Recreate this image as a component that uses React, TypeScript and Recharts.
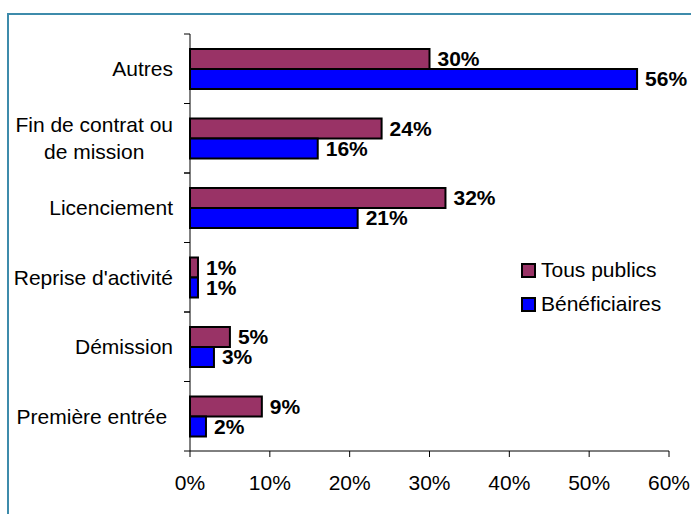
import { Bar, BarChart, LabelList, XAxis, YAxis } from "recharts";

const categories = [
  "Autres",
  "Fin de contrat ou de mission",
  "Licenciement",
  "Reprise d'activité",
  "Démission",
  "Première entrée\u00a0",
];
const tousPublics = [30, 24, 32, 1, 5, 9];
const beneficiaires = [56, 16, 21, 1, 3, 2];
const xTicks = [0, 10, 20, 30, 40, 50, 60];

const series = [
  { key: "tous", name: "Tous publics", color: "#993366" },
  { key: "benef", name: "Bénéficiaires", color: "#0000FF" },
];

const W = 691;
const H = 514;
const MARGIN = { top: 34, right: 22, bottom: 0, left: 0 };
const Y_WIDTH = 190;
const X_HEIGHT = 63;
const FONT = "'Liberation Sans', Arial, sans-serif";
const FS = 21;

const AXIS_X = MARGIN.left + Y_WIDTH;
const BAND = (H - MARGIN.top - MARGIN.bottom - X_HEIGHT) / categories.length;

const data = categories.map((name, i) => ({
  name,
  tous: tousPublics[i],
  benef: beneficiaires[i],
}));

let ctx: CanvasRenderingContext2D | null = null;
const measure = (s: string) => {
  if (!ctx) ctx = document.createElement("canvas").getContext("2d");
  if (!ctx) return s.length * FS * 0.5;
  ctx.font = `${FS}px ${FONT}`;
  return ctx.measureText(s).width;
};

// greedy word wrap, used for the long category name
const wrap = (s: string, max: number) => {
  const words = s.split(" ");
  const lines: string[] = [];
  let cur = "";
  words.forEach((w) => {
    const next = cur ? cur + " " + w : w;
    if (cur && measure(next) > max) {
      lines.push(cur);
      cur = w;
    } else cur = next;
  });
  if (cur) lines.push(cur);
  return lines;
};

const CategoryTick = (props: any) => {
  const { y, payload } = props;
  const right = AXIS_X - 17;
  const lines = wrap(String(payload.value), 165);
  const blockW = Math.max(...lines.map(measure));
  const lh = 27;
  const y0 = y - ((lines.length - 1) * lh) / 2;
  return (
    <g>
      <line x1={AXIS_X - 6} x2={AXIS_X} y1={y - BAND / 2} y2={y - BAND / 2} stroke="#000" />
      <line x1={AXIS_X - 6} x2={AXIS_X} y1={y + BAND / 2} y2={y + BAND / 2} stroke="#000" />
      {lines.map((l, i) => (
        <text
          key={i}
          x={lines.length > 1 ? right - blockW / 2 : right}
          y={y0 + i * lh}
          dy="0.35em"
          textAnchor={lines.length > 1 ? "middle" : "end"}
          fontSize={FS}
          fontFamily={FONT}
          fill="#000"
        >
          {l}
        </text>
      ))}
    </g>
  );
};

export default function App() {
  return (
    <div
      style={{
        position: "absolute",
        left: 0,
        top: 0,
        width: W,
        height: H,
        overflow: "hidden",
        background: "#fff",
      }}
    >
      <div
        style={{
          position: "absolute",
          left: 7,
          top: 13,
          width: W,
          height: H,
          borderTop: "2px solid #3d8bab",
          borderLeft: "2px solid #3d8bab",
        }}
      />
      <div style={{ position: "absolute", left: 0, top: 0 }}>
        <BarChart
          width={W}
          height={H}
          data={data}
          layout="vertical"
          margin={MARGIN}
          barCategoryGap={15}
          barGap={0}
        >
          <XAxis
            type="number"
            domain={[0, 60]}
            ticks={xTicks}
            tickFormatter={(v) => `${v}%`}
            height={X_HEIGHT}
            tickSize={6}
            tickMargin={18}
            stroke="#000"
            tick={{ fill: "#000", fontSize: FS, fontFamily: FONT }}
            interval={0}
          />
          <YAxis
            type="category"
            dataKey="name"
            width={Y_WIDTH}
            stroke="#000"
            tickLine={false}
            tick={<CategoryTick />}
            interval={0}
          />
          {series.map((s) => (
            <Bar
              key={s.key}
              dataKey={s.key}
              name={s.name}
              fill={s.color}
              stroke="#000"
              strokeWidth={2}
              isAnimationActive={false}
            >
              <LabelList
                dataKey={s.key}
                position="right"
                offset={8}
                formatter={(v: any) => `${v}%`}
                fill="#000"
                fontSize={FS}
                fontWeight="bold"
                fontFamily={FONT}
              />
            </Bar>
          ))}
        </BarChart>
      </div>
      <div
        style={{
          position: "absolute",
          left: 521,
          top: 253,
          fontFamily: FONT,
          fontSize: FS,
          color: "#000",
        }}
      >
        {series.map((s) => (
          <div
            key={s.key}
            style={{ display: "flex", alignItems: "center", height: 34 }}
          >
            <span
              style={{
                display: "inline-block",
                width: 11,
                height: 11,
                background: s.color,
                border: "2px solid #000",
                marginRight: 5,
              }}
            />
            <span>{s.name}</span>
          </div>
        ))}
      </div>
    </div>
  );
}
